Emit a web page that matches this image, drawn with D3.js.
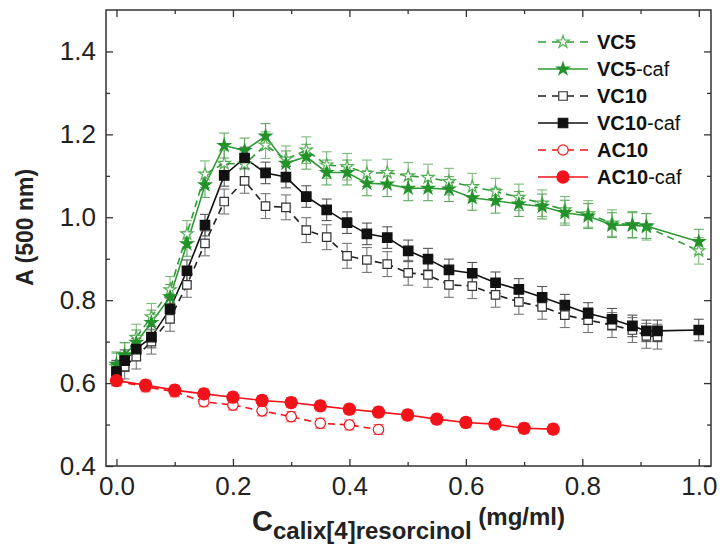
<!DOCTYPE html>
<html><head><meta charset="utf-8">
<script src="https://cdn.jsdelivr.net/npm/d3@7"></script>
<style>
body{margin:0;background:#fff}
svg{display:block;font-family:"Liberation Sans",Arial,Helvetica,sans-serif}
</style>
</head><body>
<svg id="chart" width="723" height="553"></svg>
<script>
// Concentration of calix[4]resorcinol (mg/ml) for the VC titrations
const xStars = [0, 0.014, 0.034, 0.06, 0.092, 0.121, 0.152, 0.185, 0.22, 0.256, 0.291, 0.326, 0.361, 0.396, 0.43, 0.465, 0.501, 0.535, 0.571, 0.611, 0.651, 0.691, 0.731, 0.77, 0.81, 0.851, 0.886, 0.91, 1.0];
const xSquaresCaf = [0, 0.014, 0.034, 0.06, 0.092, 0.121, 0.152, 0.185, 0.22, 0.256, 0.291, 0.326, 0.361, 0.396, 0.43, 0.465, 0.501, 0.535, 0.571, 0.611, 0.651, 0.691, 0.731, 0.77, 0.81, 0.851, 0.886, 0.91, 0.929, 1.0];
const xSquares = [0, 0.014, 0.034, 0.06, 0.092, 0.121, 0.152, 0.185, 0.22, 0.256, 0.291, 0.326, 0.361, 0.396, 0.43, 0.465, 0.501, 0.535, 0.571, 0.611, 0.651, 0.691, 0.731, 0.77, 0.81, 0.851, 0.886, 0.91, 0.929];
const xCirclesCaf = [0, 0.05, 0.10, 0.15, 0.20, 0.25, 0.30, 0.35, 0.40, 0.45, 0.50, 0.55, 0.60, 0.65, 0.70, 0.75];
const xCircles = [0, 0.05, 0.10, 0.15, 0.20, 0.25, 0.30, 0.35, 0.40, 0.45];

// Absorbance at 500 nm
const vc5 = [0.640, 0.665, 0.710, 0.760, 0.825, 0.960, 1.104, 1.130, 1.128, 1.174, 1.140, 1.162, 1.126, 1.122, 1.106, 1.108, 1.100, 1.096, 1.086, 1.074, 1.062, 1.048, 1.034, 1.018, 1.008, 0.986, 0.982, 0.977, 0.919];
const vc5caf = [0.645, 0.668, 0.698, 0.746, 0.808, 0.936, 1.078, 1.173, 1.161, 1.196, 1.130, 1.146, 1.108, 1.108, 1.082, 1.080, 1.070, 1.070, 1.068, 1.047, 1.040, 1.032, 1.026, 1.011, 1.003, 0.981, 0.981, 0.979, 0.941];
const vc10 = [0.625, 0.640, 0.664, 0.700, 0.755, 0.837, 0.937, 1.038, 1.088, 1.027, 1.024, 0.969, 0.952, 0.907, 0.897, 0.887, 0.866, 0.861, 0.837, 0.834, 0.813, 0.796, 0.784, 0.764, 0.752, 0.740, 0.728, 0.714, 0.712];
const vc10caf = [0.628, 0.654, 0.682, 0.711, 0.779, 0.871, 0.981, 1.101, 1.143, 1.107, 1.097, 1.050, 1.018, 0.987, 0.960, 0.951, 0.919, 0.899, 0.873, 0.865, 0.842, 0.826, 0.807, 0.788, 0.768, 0.754, 0.738, 0.726, 0.726, 0.728];
const ac10 = [0.605, 0.591, 0.579, 0.555, 0.547, 0.533, 0.519, 0.503, 0.499, 0.488];
const ac10caf = [0.606, 0.595, 0.583, 0.574, 0.566, 0.558, 0.553, 0.545, 0.537, 0.530, 0.523, 0.513, 0.505, 0.501, 0.491, 0.489];

// Standard deviation of each series
const errVC5 = 0.032, errVC5caf = 0.030, errVC10 = 0.030, errVC10caf = 0.026, errAC10 = 0.012, errAC10caf = 0.012;

// Axis ticks
const xMajor = [0, 0.2, 0.4, 0.6, 0.8, 1.0];
const xMinor = [0.1, 0.3, 0.5, 0.7, 0.9];
const yMajor = [0.4, 0.6, 0.8, 1.0, 1.2, 1.4];
const yMinor = [0.5, 0.7, 0.9, 1.1, 1.3];

const GREEN = "#23922a", GREEN_LT = "#55b055", BLACK = "#111", RED = "#f3121a";

const series = [
  {name: "VC5", suffix: "", xs: xStars, ys: vc5, err: errVC5, color: GREEN_LT, lineColor: "#2f9a35", errColor: "#7dbb7d", dash: "7,5", shape: d3.symbolStar, size: 48, fill: "#fff"},
  {name: "VC5", suffix: "-caf", xs: xStars, ys: vc5caf, err: errVC5caf, color: GREEN, lineColor: "#2f9a35", errColor: "#5fa85f", dash: null, shape: d3.symbolStar, size: 48, fill: GREEN},
  {name: "VC10", suffix: "", xs: xSquares, ys: vc10, err: errVC10, color: "#333", lineColor: "#222", errColor: "#777", dash: "7,5", shape: d3.symbolSquare, size: 72, fill: "#fff"},
  {name: "VC10", suffix: "-caf", xs: xSquaresCaf, ys: vc10caf, err: errVC10caf, color: BLACK, lineColor: "#111", errColor: "#555", dash: null, shape: d3.symbolSquare, size: 90, fill: BLACK},
  {name: "AC10", suffix: "", xs: xCircles, ys: ac10, err: errAC10, color: RED, lineColor: RED, errColor: "#f26a6a", dash: "7,5", shape: d3.symbolCircle, size: 85, fill: "#fff"},
  {name: "AC10", suffix: "-caf", xs: xCirclesCaf, ys: ac10caf, err: errAC10caf, color: RED, lineColor: RED, errColor: "#f26a6a", dash: null, shape: d3.symbolCircle, size: 115, fill: RED}
];

const svg = d3.select("#chart");
const plotLeft = 106, plotRight = 711, plotTop = 10, plotBottom = 466;

const x = d3.scaleLinear().domain([-0.018, 1.021]).range([plotLeft, plotRight]);
const y = d3.scaleLinear().domain([0.4, 1.5]).range([plotBottom, plotTop]);

const fmt = d3.format(".1f");
const tickFont = 26;

// Axes: ticks point into the plot box on all four sides
function styleAxis(g) {
  g.select(".domain").remove();
  g.selectAll(".tick line").attr("stroke", "#333").attr("stroke-width", 1.3);
  g.selectAll("text").attr("font-size", tickFont).attr("fill", "#222").attr("font-family", '"Liberation Sans",Arial,sans-serif');
}
svg.append("g").attr("transform", `translate(0,${plotBottom})`)
  .call(d3.axisBottom(x).tickValues(xMajor).tickSizeInner(-7).tickSizeOuter(0).tickPadding(11).tickFormat(fmt)).call(styleAxis);
svg.append("g").attr("transform", `translate(0,${plotBottom})`)
  .call(d3.axisBottom(x).tickValues(xMinor).tickSizeInner(-4).tickSizeOuter(0).tickFormat("")).call(styleAxis);
svg.append("g").attr("transform", `translate(0,${plotTop})`)
  .call(d3.axisTop(x).tickValues(xMajor).tickSizeInner(-7).tickSizeOuter(0).tickFormat("")).call(styleAxis);
svg.append("g").attr("transform", `translate(0,${plotTop})`)
  .call(d3.axisTop(x).tickValues(xMinor).tickSizeInner(-4).tickSizeOuter(0).tickFormat("")).call(styleAxis);
svg.append("g").attr("transform", `translate(${plotLeft},0)`)
  .call(d3.axisLeft(y).tickValues(yMajor).tickSizeInner(-7).tickSizeOuter(0).tickPadding(10).tickFormat(fmt)).call(styleAxis);
svg.append("g").attr("transform", `translate(${plotLeft},0)`)
  .call(d3.axisLeft(y).tickValues(yMinor).tickSizeInner(-4).tickSizeOuter(0).tickFormat("")).call(styleAxis);
svg.append("g").attr("transform", `translate(${plotRight},0)`)
  .call(d3.axisRight(y).tickValues(yMajor).tickSizeInner(-7).tickSizeOuter(0).tickFormat("")).call(styleAxis);
svg.append("g").attr("transform", `translate(${plotRight},0)`)
  .call(d3.axisRight(y).tickValues(yMinor).tickSizeInner(-4).tickSizeOuter(0).tickFormat("")).call(styleAxis);

svg.append("rect").attr("x", plotLeft).attr("y", plotTop).attr("width", plotRight - plotLeft).attr("height", plotBottom - plotTop)
  .attr("fill", "none").attr("stroke", "#333").attr("stroke-width", 1.5);

// Axis titles
svg.append("text").attr("transform", `translate(33,${y(1.0) + 10}) rotate(-90)`)
  .attr("text-anchor", "middle").attr("font-size", 23).attr("font-weight", "bold").attr("fill", "#222")
  .text("A (500 nm)");
const xt = svg.append("text").attr("x", (plotLeft + plotRight) / 2).attr("y", 531)
  .attr("text-anchor", "middle").attr("font-weight", "bold").attr("fill", "#222");
xt.append("tspan").attr("font-size", 29).text("C");
xt.append("tspan").attr("font-size", 24).attr("dy", 8).text("calix[4]resorcinol");
xt.append("tspan").attr("font-size", 24).attr("dy", -14).text("\u00a0(mg/ml)");

const line = d3.line().x(d => x(d[0])).y(d => y(d[1]));
const plot = svg.append("g");

// Connecting lines
series.forEach(s => {
  const pts = s.xs.map((v, i) => [v, s.ys[i]]);
  plot.append("path").datum(pts).attr("d", line).attr("fill", "none")
    .attr("stroke", s.lineColor).attr("stroke-width", 1.6)
    .attr("stroke-dasharray", s.dash);
});

// Error bars
series.forEach(s => {
  const g = plot.append("g").attr("stroke", s.errColor).attr("stroke-width", 1.1);
  s.xs.forEach((v, i) => {
    const cx = x(v), y0 = y(s.ys[i] - s.err), y1 = y(s.ys[i] + s.err);
    g.append("line").attr("x1", cx).attr("x2", cx).attr("y1", y0).attr("y2", y1);
    g.append("line").attr("x1", cx - 5).attr("x2", cx + 5).attr("y1", y0).attr("y2", y0);
    g.append("line").attr("x1", cx - 5).attr("x2", cx + 5).attr("y1", y1).attr("y2", y1);
  });
});

// Markers
series.forEach(s => {
  const sym = d3.symbol().type(s.shape).size(s.size);
  plot.append("g").selectAll("path").data(s.xs.map((v, i) => [v, s.ys[i]])).join("path")
    .attr("transform", d => `translate(${x(d[0])},${y(d[1])})`)
    .attr("d", sym).attr("fill", s.fill).attr("stroke", s.color).attr("stroke-width", 1.2);
});

// Legend
const legend = svg.append("g");
const rowY = [42, 69, 96, 123, 150, 177];
series.forEach((s, i) => {
  const gy = rowY[i];
  legend.append("line").attr("x1", 538).attr("x2", 588).attr("y1", gy).attr("y2", gy)
    .attr("stroke", s.lineColor).attr("stroke-width", 1.6).attr("stroke-dasharray", s.dash ? "8,6" : null);
  legend.append("path").attr("transform", `translate(563,${gy})`)
    .attr("d", d3.symbol().type(s.shape).size(s.size)()).attr("fill", s.fill)
    .attr("stroke", s.color).attr("stroke-width", 1.2);
  const t = legend.append("text").attr("x", 597).attr("y", gy + 7).attr("font-size", 20).attr("fill", "#111");
  t.append("tspan").attr("font-weight", "bold").text(s.name);
  if (s.suffix) t.append("tspan").text(s.suffix);
});
</script>
</body></html>
